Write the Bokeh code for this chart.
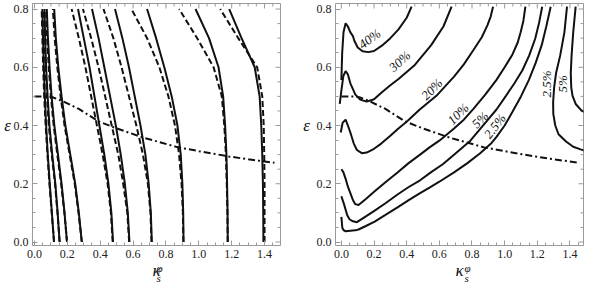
import math
from bokeh.plotting import figure
from bokeh.models import Label, FixedTicker, Range1d, PrintfTickFormatter
from bokeh.layouts import row
from bokeh.embed import file_html
from bokeh.resources import INLINE

# ---------------- data ----------------
X_TICKS = [0.0, 0.2, 0.4, 0.6, 0.8, 1.0, 1.2, 1.4]
X_TICK_FORMAT = "%.1f"      # labels read "0.0", "0.2", ..., "1.4"
Y_TICKS = [0.0, 0.2, 0.4, 0.6, 0.8]
Y_TICK_FORMAT = "%.1f"      # labels read "0.0", ..., "0.8"
MINOR_X = [0.05, 0.1, 0.15, 0.25, 0.3, 0.35, 0.45, 0.5, 0.55, 0.65, 0.7, 0.75, 0.85, 0.9, 0.95,
           1.05, 1.1, 1.15, 1.25, 1.3, 1.35, 1.45, 1.5]
MINOR_Y = [0.05, 0.1, 0.15, 0.25, 0.3, 0.35, 0.45, 0.5, 0.55, 0.65, 0.7, 0.75]

# left panel: x position of each contour at eps = 0.0, 0.1, ..., 0.8
EPS_LEVELS = [0.0, 0.1, 0.2, 0.3, 0.4, 0.5, 0.6, 0.7, 0.8]
L1_solid = [0.119, 0.106, 0.093, 0.081, 0.071, 0.063, 0.057, 0.052, 0.048]
L1_dash = [0.119, 0.105, 0.091, 0.079, 0.068, 0.059, 0.053, 0.048, 0.044]
L2_solid = [0.153, 0.141, 0.127, 0.108, 0.091, 0.080, 0.071, 0.065, 0.061]
L2_dash = [0.153, 0.140, 0.125, 0.105, 0.087, 0.076, 0.067, 0.061, 0.057]
L3_solid = [0.198, 0.183, 0.165, 0.143, 0.121, 0.104, 0.092, 0.082, 0.075]
L3_dash = [0.198, 0.182, 0.162, 0.139, 0.117, 0.100, 0.087, 0.077, 0.070]
L4_solid = [0.288, 0.270, 0.248, 0.218, 0.188, 0.165, 0.145, 0.130, 0.120]
L4_dash = [0.288, 0.268, 0.245, 0.214, 0.183, 0.159, 0.139, 0.123, 0.112]
P5_solid = [0.478, 0.468, 0.450, 0.425, 0.395, 0.365, 0.335, 0.300, 0.265]
P5_dash = [0.476, 0.465, 0.445, 0.415, 0.380, 0.345, 0.310, 0.270, 0.226]
P6_solid = [0.578, 0.568, 0.550, 0.525, 0.495, 0.460, 0.425, 0.390, 0.350]
P6_dash = [0.576, 0.565, 0.540, 0.510, 0.470, 0.430, 0.390, 0.345, 0.295]
P7_solid = [0.714, 0.708, 0.695, 0.675, 0.645, 0.610, 0.575, 0.535, 0.490]
P7_dash = [0.712, 0.706, 0.690, 0.660, 0.620, 0.575, 0.530, 0.480, 0.420]
P8_solid = [0.907, 0.905, 0.900, 0.890, 0.870, 0.835, 0.790, 0.740, 0.685]
P8_dash = [0.906, 0.903, 0.895, 0.880, 0.855, 0.815, 0.760, 0.685, 0.590]
P9_solid = [1.176, 1.175, 1.172, 1.168, 1.160, 1.148, 1.120, 1.062, 0.980]
P9_dash = [1.176, 1.174, 1.170, 1.165, 1.155, 1.140, 1.090, 0.990, 0.880]
P10_solid = [1.393, 1.392, 1.390, 1.386, 1.380, 1.370, 1.340, 1.260, 1.185]
P10_dash = [1.400, 1.400, 1.400, 1.398, 1.395, 1.386, 1.355, 1.240, 1.130]

LEFT_SOLID = [L1_solid, L2_solid, L3_solid, L4_solid, P5_solid, P6_solid, P7_solid, P8_solid, P9_solid, P10_solid]
LEFT_DASH = [L1_dash, L2_dash, L3_dash, L4_dash, P5_dash, P6_dash, P7_dash, P8_dash, P9_dash, P10_dash]

# dash-dot boundary curve (both panels)
BOUND_X = [0.0, 0.07, 0.11, 0.17, 0.27, 0.39, 0.50, 0.665, 0.78, 0.874, 1.0, 1.18, 1.30, 1.46]
BOUND_E = [0.50, 0.50, 0.497, 0.484, 0.457, 0.414, 0.390, 0.358, 0.340, 0.325, 0.312, 0.294, 0.284, 0.272]

# right panel contours
C40_x = [0.0, 0.005, 0.013, 0.026, 0.04, 0.055, 0.07, 0.08, 0.10, 0.13, 0.165, 0.20, 0.25, 0.30, 0.35, 0.40, 0.43]
C40_e = [0.556, 0.65, 0.72, 0.751, 0.74, 0.72, 0.708, 0.69, 0.668, 0.655, 0.652, 0.656, 0.675, 0.70, 0.73, 0.77, 0.808]
C30_x = [-0.01, 0.0, 0.012, 0.026, 0.04, 0.055, 0.085, 0.115, 0.155, 0.20, 0.25, 0.30, 0.35, 0.45, 0.55, 0.625, 0.675]
C30_e = [0.474, 0.52, 0.57, 0.587, 0.575, 0.545, 0.507, 0.489, 0.482, 0.49, 0.515, 0.538, 0.56, 0.608, 0.676, 0.74, 0.808]
C20_x = [-0.004, 0.008, 0.026, 0.04, 0.055, 0.076, 0.095, 0.125, 0.155, 0.20, 0.244, 0.30, 0.344, 0.403, 0.48,
         0.582, 0.69, 0.75, 0.81, 0.86, 0.895, 0.915, 0.929]
C20_e = [0.376, 0.41, 0.42, 0.40, 0.376, 0.338, 0.316, 0.305, 0.307, 0.32, 0.338, 0.365, 0.387, 0.415, 0.455,
         0.502, 0.568, 0.61, 0.66, 0.703, 0.745, 0.775, 0.808]
C10_x = [0.0, 0.012, 0.026, 0.04, 0.055, 0.07, 0.085, 0.105, 0.15, 0.204, 0.27, 0.344, 0.41, 0.482, 0.54, 0.60,
         0.69, 0.75, 0.81, 0.88, 0.949, 1.0, 1.048, 1.08, 1.098, 1.115, 1.127]
C10_e = [0.25, 0.24, 0.217, 0.19, 0.168, 0.145, 0.13, 0.127, 0.148, 0.174, 0.205, 0.239, 0.27, 0.30, 0.325, 0.348,
         0.39, 0.42, 0.458, 0.505, 0.556, 0.60, 0.644, 0.685, 0.72, 0.76, 0.808]
C5_x = [0.0, 0.016, 0.036, 0.05, 0.066, 0.095, 0.15, 0.204, 0.27, 0.344, 0.41, 0.482, 0.55, 0.621, 0.69, 0.79,
        0.889, 0.95, 1.008, 1.06, 1.108, 1.15, 1.187, 1.21, 1.23]
C5_e = [0.157, 0.13, 0.092, 0.078, 0.072, 0.068, 0.088, 0.108, 0.133, 0.163, 0.188, 0.212, 0.24, 0.267, 0.30, 0.348,
        0.414, 0.455, 0.502, 0.545, 0.589, 0.64, 0.698, 0.75, 0.808]
C25_x = [0.0, 0.006, 0.015, 0.026, 0.055, 0.085, 0.105, 0.15, 0.204, 0.27, 0.344, 0.41, 0.482, 0.54, 0.60, 0.69,
         0.77, 0.85, 0.92, 0.949, 1.0, 1.048, 1.10, 1.148, 1.19, 1.227, 1.255, 1.282]
C25_e = [0.086, 0.048, 0.04, 0.037, 0.039, 0.04, 0.043, 0.055, 0.07, 0.093, 0.119, 0.143, 0.168, 0.187, 0.207, 0.239,
         0.27, 0.305, 0.34, 0.36, 0.40, 0.447, 0.50, 0.556, 0.615, 0.676, 0.74, 0.808]
C25b_x = [1.382, 1.366, 1.34, 1.315, 1.303, 1.297, 1.298, 1.31, 1.33, 1.376, 1.42, 1.465, 1.50]
C25b_e = [0.808, 0.72, 0.64, 0.58, 0.53, 0.48, 0.44, 0.40, 0.37, 0.345, 0.327, 0.318, 0.312]
C5b_x = [1.435, 1.42, 1.41, 1.405, 1.408, 1.416, 1.435, 1.47, 1.50]
C5b_e = [0.808, 0.72, 0.64, 0.58, 0.53, 0.502, 0.474, 0.452, 0.442]

RIGHT_CURVES = [(C40_x, C40_e), (C30_x, C30_e), (C20_x, C20_e), (C10_x, C10_e), (C5_x, C5_e),
                (C25_x, C25_e), (C25b_x, C25b_e), (C5b_x, C5b_e)]

CONTOUR_LABELS = ["40%", "30%", "20%", "10%", "5%", "2.5%", "2.5%", "5%"]
LABEL_X = [0.173, 0.357, 0.554, 0.715, 0.849, 0.94, 1.257, 1.356]
LABEL_E = [0.698, 0.621, 0.525, 0.44, 0.42, 0.398, 0.543, 0.543]
LABEL_ANGLE_DEG = [37, 42, 45, 44, 45, 52, 90, 90]

# ---------------- styling ----------------
FONT = "Liberation Serif"
FRAME = "#9a9a9a"
INK = "#111111"
Y_START, Y_END = -0.012, 0.819


def style_axis(ax, ticks, minor, fmt):
    ax.ticker = FixedTicker(ticks=ticks, minor_ticks=minor)
    ax.formatter = PrintfTickFormatter(format=fmt)
    ax.axis_line_color = None
    ax.major_tick_in = 5
    ax.major_tick_out = 0
    ax.minor_tick_in = 3
    ax.minor_tick_out = 0
    ax.major_tick_line_color = FRAME
    ax.minor_tick_line_color = FRAME
    ax.major_label_text_font = FONT
    ax.major_label_text_font_size = "12px"
    ax.major_label_text_color = "#222222"
    ax.major_label_standoff = 4


def make_fig(x_start, x_end, width, b_left, b_right, eps_offset, script_side, kappa_align, script_dx):
    p = figure(width=width, height=282, x_range=Range1d(x_start, x_end),
               y_range=Range1d(Y_START, Y_END), output_backend="svg", toolbar_location=None,
               min_border_left=b_left, min_border_right=b_right, min_border_top=3,
               min_border_bottom=34)
    p.grid.visible = False
    p.outline_line_color = FRAME
    p.outline_line_width = 1
    style_axis(p.xaxis[0], X_TICKS, MINOR_X, X_TICK_FORMAT)
    style_axis(p.yaxis[0], Y_TICKS, MINOR_Y, Y_TICK_FORMAT)
    # x title: kappa as the axis label, sub/superscript as side labels
    xa = p.xaxis[0]
    xa.axis_label = "κ"
    xa.axis_label_text_font = FONT
    xa.axis_label_text_font_style = "italic"
    xa.axis_label_text_font_size = "17px"
    xa.axis_label_text_color = INK
    xa.axis_label_standoff = 0
    xa.axis_label_text_align = kappa_align
    # inward ticks on the top and right sides of the frame
    p.ray(x=X_TICKS, y=Y_END, length=5, length_units="screen", angle=-math.pi / 2,
          line_color=FRAME, line_width=1)
    p.ray(x=MINOR_X, y=Y_END, length=3, length_units="screen", angle=-math.pi / 2,
          line_color=FRAME, line_width=1)
    p.ray(x=x_end, y=Y_TICKS, length=5, length_units="screen", angle=math.pi,
          line_color=FRAME, line_width=1)
    p.ray(x=x_end, y=MINOR_Y, length=3, length_units="screen", angle=math.pi,
          line_color=FRAME, line_width=1)
    # y title
    p.add_layout(Label(x=x_start, y=0.4, x_offset=eps_offset, text="ε", text_font=FONT,
                       text_font_style="italic", text_font_size="17px", text_align="center",
                       text_baseline="middle", text_color=INK), "left")
    xmid = (x_start + x_end) / 2
    p.add_layout(Label(x=xmid, y=Y_START, y_offset=-22, x_offset=script_dx, text="φ", text_font=FONT,
                       text_font_style="italic", text_font_size="11px", text_align="left",
                       text_baseline="alphabetic", text_color=INK), script_side)
    p.add_layout(Label(x=xmid, y=Y_START, y_offset=-32, x_offset=script_dx, text="s", text_font=FONT,
                       text_font_style="italic", text_font_size="11px", text_align="left",
                       text_baseline="alphabetic", text_color=INK), script_side)
    return p


# ---------------- left panel ----------------
p1 = make_fig(-0.012, 1.497, 292, 32, 12, -25, "right", "right", 0)
for xs in LEFT_SOLID:
    p1.line(xs, EPS_LEVELS, line_color=INK, line_width=2)
for xs in LEFT_DASH:
    p1.line(xs, EPS_LEVELS, line_color=INK, line_width=2, line_dash="6 3")
p1.line(BOUND_X, BOUND_E, line_color=INK, line_width=2, line_dash="7 3 2 3")

# ---------------- right panel ----------------
p2 = make_fig(-0.036, 1.483, 292, 43, 1, -29, "left", "center", 5)
for cx, ce in RIGHT_CURVES:
    p2.line(cx, ce, line_color=INK, line_width=2)
p2.line(BOUND_X, BOUND_E, line_color=INK, line_width=2, line_dash="7 3 2 3")
for txt, lx, le, ang in zip(CONTOUR_LABELS, LABEL_X, LABEL_E, LABEL_ANGLE_DEG):
    p2.add_layout(Label(x=lx, y=le, text=txt, angle=math.radians(ang), text_font=FONT,
                        text_font_style="italic", text_font_size="13px", text_align="center",
                        text_baseline="middle", text_color=INK))

layout = row(p1, p2)
open("out.html", "w").write(file_html(layout, INLINE))
